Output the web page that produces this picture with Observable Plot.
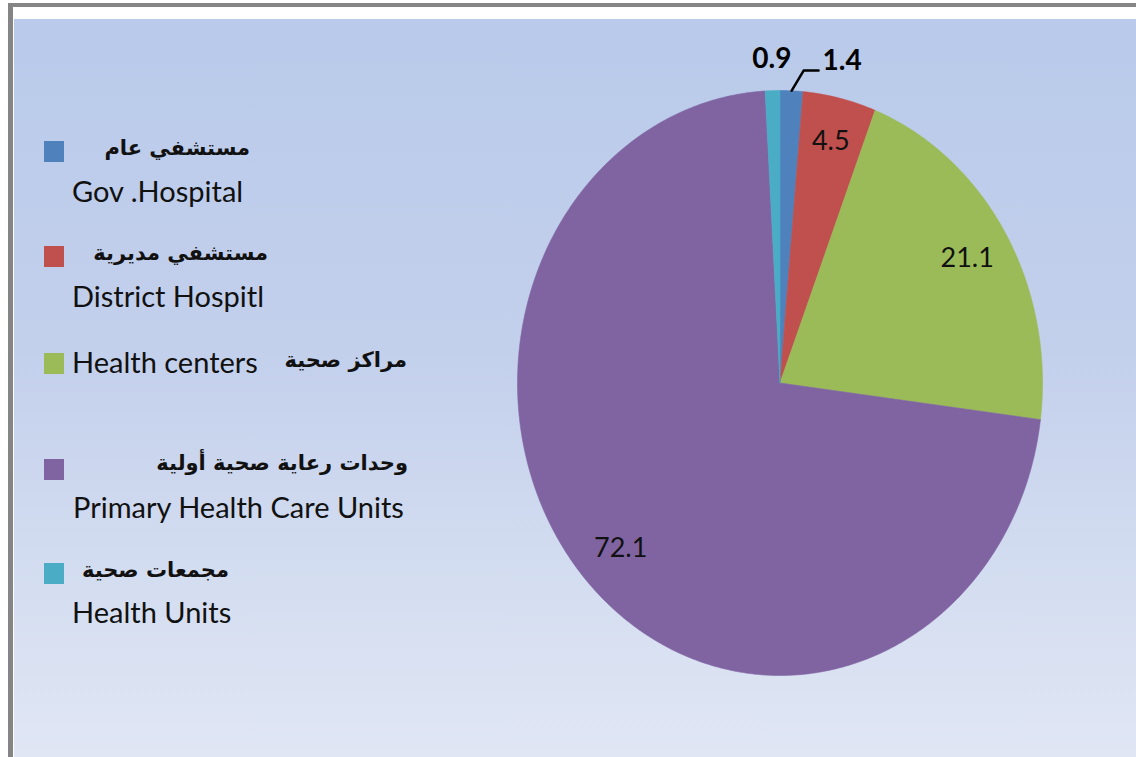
<!DOCTYPE html>
<html>
<head>
<meta charset="utf-8">
<script src="https://cdn.jsdelivr.net/npm/d3@7"></script>
<script src="https://cdn.jsdelivr.net/npm/@observablehq/plot@0.6"></script>
<style>
  html, body { margin: 0; padding: 0; background: #ffffff; }
  #wrap { position: relative; width: 1136px; height: 757px; overflow: hidden; background: #ffffff; }
  #frame { position: absolute; left: 8px; top: 3px; width: 1128px; height: 754px;
           border-top: 4px solid #858585; border-left: 5px solid #858585; background: #ffffff; box-sizing: border-box; }
  #grad { position: absolute; left: 14px; top: 19px; right: 0; bottom: 0;
          background: linear-gradient(to bottom, #b9caea 0%, #c3d0ec 45%, #d6dff1 80%, #e0e6f4 100%); }
  #chart { position: absolute; left: 0; top: 0; }
  .sw { position: absolute; width: 20px; height: 21px; }
  .en { position: absolute; font-family: Lato, "Open Sans", sans-serif; font-size: 29px; line-height: 29px; color: #111; white-space: nowrap; }
  .ar { position: absolute; font-family: "DejaVu Sans", sans-serif; font-weight: bold; font-size: 21px; line-height: 21px; color: #111; white-space: nowrap; direction: rtl; }
</style>
</head>
<body>
<div id="wrap">
  <div id="frame"></div>
  <div id="grad"></div>
  <div id="chart"></div>
  <div id="legend"></div>
</div>
<script>
// ---- data ----
const categories = ["Gov .Hospital", "District Hospitl", "Health centers", "Primary Health Care Units", "Health Units"];
const categoriesAr = ["مستشفي عام", "مستشفي مديرية", "مراكز صحية", "وحدات رعاية صحية أولية", "مجمعات صحية"];
const values = [1.4, 4.5, 21.1, 72.1, 0.9];
const valueLabels = ["1.4", "4.5", "21.1", "72.1", "0.9"];
const colors = ["#4f81bd", "#c0504d", "#9bbb59", "#8064a2", "#4bacc6"];

// ---- pie geometry (unit circle in data space, clockwise from 12 o'clock) ----
const arcs = d3.pie().sort(null).startAngle(0).endAngle(2 * Math.PI)(values);
function slicePoly(a) {
  const pts = [{x: 0, y: 0}];
  const n = Math.max(2, Math.ceil((a.endAngle - a.startAngle) / (Math.PI / 360)));
  for (let k = 0; k <= n; k++) {
    const t = a.startAngle + (a.endAngle - a.startAngle) * k / n;
    pts.push({x: Math.sin(t), y: Math.cos(t)});
  }
  pts.push({x: 0, y: 0});
  return pts;
}
const mid = a => (a.startAngle + a.endAngle) / 2;

const inside = [], outside = [];
arcs.forEach((a, i) => {
  const m = mid(a);
  if (values[i] >= 2) {
    const r = values[i] < 10 ? 0.85 : 0.83;
    inside.push({x: r * Math.sin(m), y: r * Math.cos(m), t: valueLabels[i]});
  } else {
    outside.push({i, m, t: valueLabels[i]});
  }
});

// leader for the first (smallest-angle) outside label
const lead = outside.find(d => d.i === 0);
const ex = Math.sin(lead.m), ey = Math.cos(lead.m);
const leader = [{x: ex, y: ey}, {x: ex + 0.046, y: 1.068}, {x: ex + 0.103, y: 1.068}];
const outerTexts = outside.map(d => d.i === 0
  ? {x: ex + 0.103, y: 1.068, t: d.t, anchor: "start", dx: 4, dy: -10}
  : {x: 1.1 * Math.sin(d.m), y: 1.1 * Math.cos(d.m), t: d.t, anchor: "middle", dx: 0, dy: -2});

const marks = arcs.map((a, i) => Plot.line(slicePoly(a), {
  x: "x", y: "y", fill: colors[i], stroke: colors[i], strokeWidth: 0.6, curve: "linear"
}));
marks.push(Plot.text(inside, {x: "x", y: "y", text: "t", fontSize: 27, fill: "#111",
  fontFamily: "Lato, sans-serif"}));
marks.push(Plot.line(leader, {x: "x", y: "y", stroke: "#000", strokeWidth: 2.5, curve: "linear"}));
outerTexts.forEach(d => marks.push(Plot.text([d], {x: "x", y: "y", text: "t", textAnchor: d.anchor, dx: d.dx, dy: d.dy,
  fontSize: 28, fontWeight: "bold", fill: "#000",
  fontFamily: "Lato, sans-serif"})));

const plot = Plot.plot({
  width: 1136, height: 757,
  margin: 0,
  style: {background: "transparent", overflow: "visible"},
  x: {domain: [-1, 1], range: [517, 1042], axis: null},
  y: {domain: [-1, 1], range: [675, 90], axis: null},
  marks
});
document.getElementById("chart").appendChild(plot);

// ---- legend ----
const swTop = [141, 246, 353, 459, 563];
const enLeft = [72, 72, 72, 73, 72];
const enCenter = [191, 296, 362, 507, 612];
const arRight = [250, 268, 407, 408, 229];
const arCenter = [150, 255, 362, 465, 572];
const legend = document.getElementById("legend");
categories.forEach((c, i) => {
  const sw = document.createElement("div");
  sw.className = "sw";
  sw.style.left = "44px"; sw.style.top = swTop[i] + "px"; sw.style.background = colors[i];
  legend.appendChild(sw);
  const en = document.createElement("div");
  en.className = "en"; en.textContent = c;
  en.style.left = enLeft[i] + "px"; en.style.top = (enCenter[i] - 15) + "px";
  legend.appendChild(en);
  const ar = document.createElement("div");
  ar.className = "ar"; ar.textContent = categoriesAr[i];
  ar.style.right = (1136 - arRight[i]) + "px"; ar.style.top = (arCenter[i] - 12) + "px";
  legend.appendChild(ar);
});
</script>
</body>
</html>
